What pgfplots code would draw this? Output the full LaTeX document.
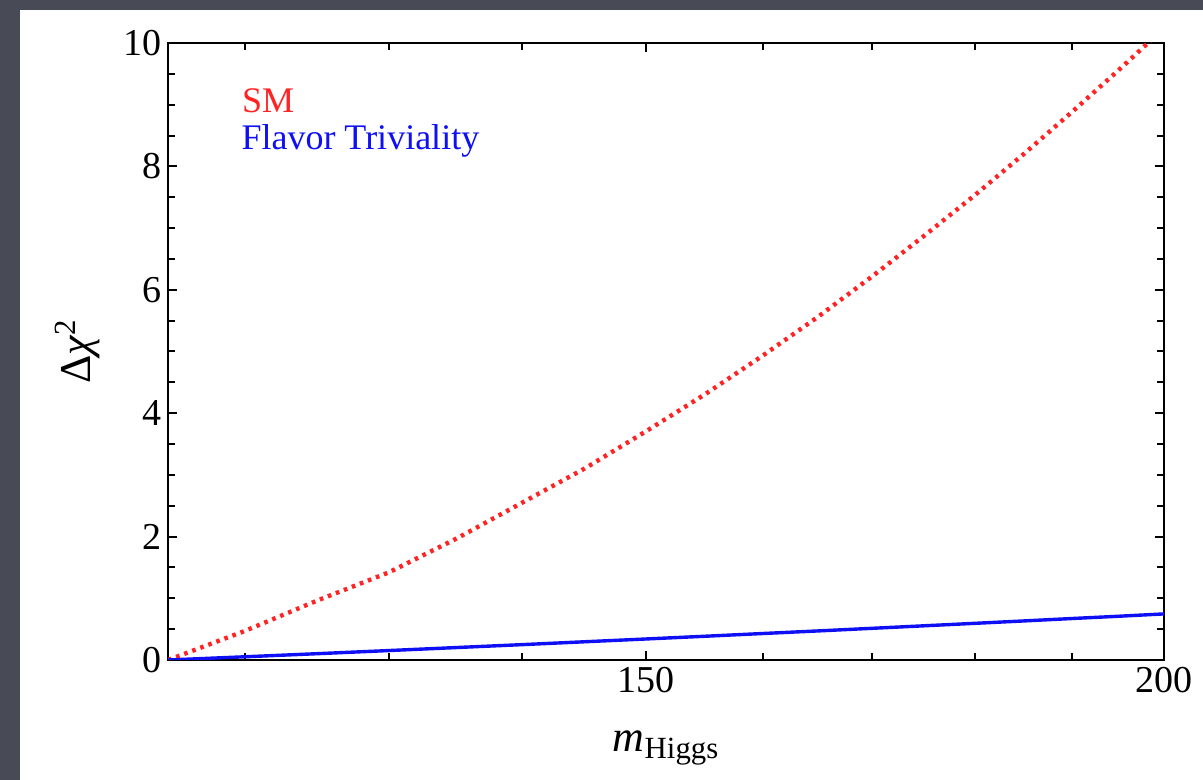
\documentclass[border=0pt]{standalone}
\usepackage{fontspec}
\setmainfont{Liberation Serif}
\usepackage{pgfplots}
\pgfplotsset{compat=1.18}
\definecolor{bgdark}{RGB}{72,75,86}
\definecolor{smred}{RGB}{255,35,35}
\definecolor{ftblue}{RGB}{15,15,245}
\begin{document}
\begin{tikzpicture}
\fill[bgdark] (0pt,0pt) rectangle (601.5pt,390pt);
\fill[white] (10pt,0pt) rectangle (601.5pt,385pt);
\begin{axis}[
  at={(84pt,60pt)}, anchor=south west,
  scale only axis, width=498pt, height=308.5pt,
  xmode=log, xmin=115, xmax=200, ymin=0, ymax=10,
  xtick={150,200}, xticklabels={150,200},
  minor xtick={120,130,140,160,170,180,190},
  ytick={0,2,4,6,8,10}, minor y tick num=3,
  tick align=inside, major tick length=4.5pt, minor tick length=3.5pt,
  tick style={black, line width=1pt},
  axis line style={line width=1.2pt},
  ticklabel style={font=\fontsize{19}{22}\selectfont},
  /pgf/number format/assume math mode=true,
  xlabel={\fontsize{22}{26}\selectfont\textit{m}\textsubscript{Higgs}},
  ylabel={\fontsize{22}{26}\selectfont Δ\textit{χ}\textsuperscript{2}},
  every axis x label/.style={at={(axis description cs:0.5,-0.149)}, anchor=base},
  every axis y label/.style={at={(axis description cs:-0.091,0.5)}, rotate=90, anchor=center},
]
\addplot[smred, line width=2.2pt, dash pattern=on 1.8pt off 2.5pt] coordinates {
(115,0) (120,0.47) (125,0.97) (130,1.42) (135,1.97) (140,2.55) (145,3.11)
(150,3.71) (155,4.31) (160,4.93) (165,5.56) (170,6.21) (175,6.87)
(180,7.53) (185,8.20) (190,8.88) (195,9.56) (200,10.24)};
\addplot[ftblue, line width=1.7pt] coordinates {
(115,0) (120,0.052) (125,0.103) (130,0.153) (135,0.202) (140,0.249) (145,0.296)
(150,0.341) (155,0.385) (160,0.429) (165,0.471) (170,0.513) (175,0.554)
(180,0.594) (185,0.633) (190,0.672) (195,0.709) (200,0.747)};
\node[anchor=base west, text=smred, font=\fontsize{18}{21}\selectfont, inner sep=0pt] at (rel axis cs:0.074,0.888) {SM};
\node[anchor=base west, text=ftblue, font=\fontsize{18}{21}\selectfont, inner sep=0pt] at (rel axis cs:0.0733,0.8266) {Flavor Triviality};
\end{axis}
\end{tikzpicture}
\end{document}
